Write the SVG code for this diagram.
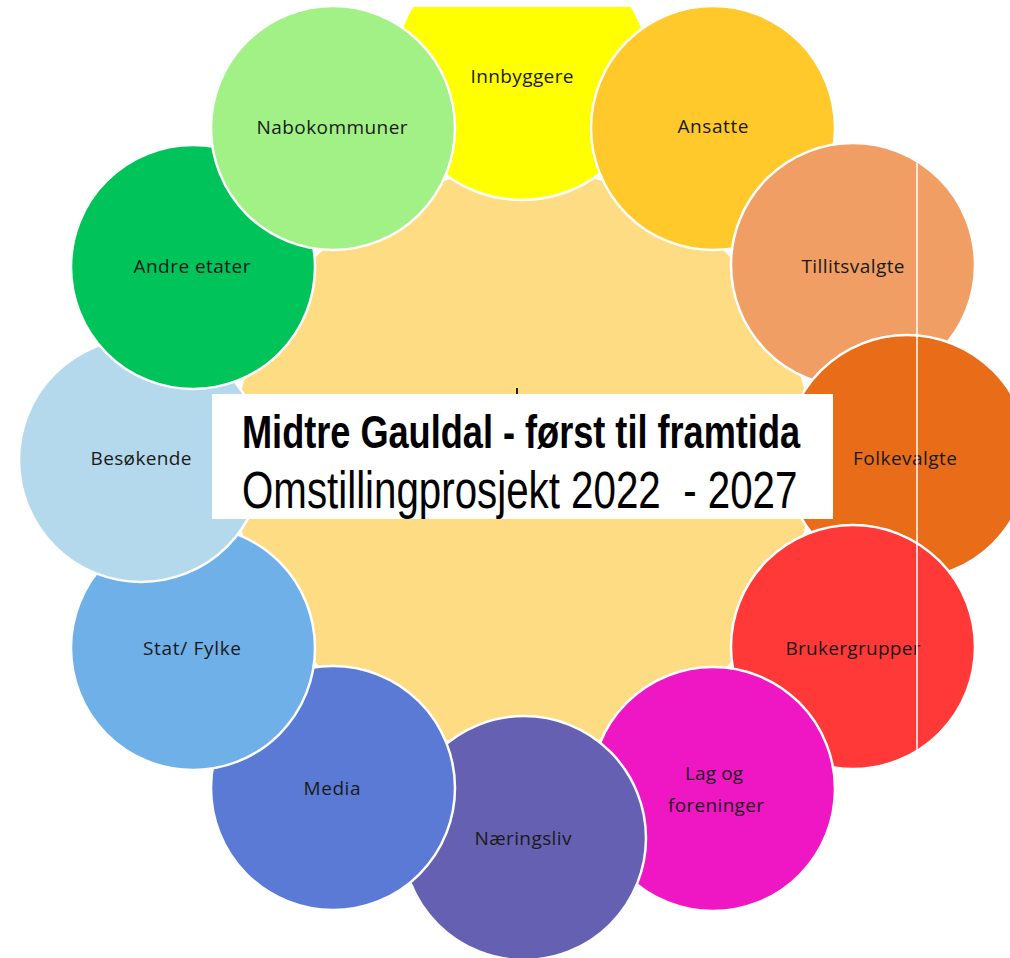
<svg xmlns="http://www.w3.org/2000/svg" width="1010" height="958" viewBox="0 0 1010 958">
<style>
.c{stroke:#fff;stroke-width:2.5}
.t{font-family:"Open Sans","Liberation Sans",sans-serif;font-size:19px;fill:#1a1a1a;text-anchor:middle}
.h1{font-family:"Liberation Sans",Arial,sans-serif;font-weight:bold;font-size:46px;fill:#000}
.h2{font-family:"Liberation Sans",Arial,sans-serif;font-size:51px;fill:#000}
</style>
<rect width="1010" height="958" fill="#fff"/>
<circle id="center" cx="523" cy="460" r="290" fill="#FEDC84"/>
<g id="innbyggere"><circle class="c" cx="522" cy="72" r="128" fill="#FFFF00"/><text class="t" x="522" y="83" textLength="103" lengthAdjust="spacing">Innbyggere</text></g>
<g id="ansatte"><circle class="c" cx="713" cy="128" r="122" fill="#FFC92B"/><text class="t" x="713" y="133" textLength="71" lengthAdjust="spacing">Ansatte</text></g>
<g id="tillitsvalgte"><circle class="c" cx="853" cy="265" r="122" fill="#F09E64"/><text class="t" x="853" y="273" textLength="103" lengthAdjust="spacing">Tillitsvalgte</text></g>
<g id="folkevalgte"><circle class="c" cx="907" cy="457" r="122" fill="#E96C19"/><text class="t" x="905" y="465" textLength="104" lengthAdjust="spacing">Folkevalgte</text></g>
<g id="brukergrupper"><circle class="c" cx="853" cy="647" r="122" fill="#FF3838"/><text class="t" x="853" y="655" textLength="135" lengthAdjust="spacing">Brukergrupper</text></g>
<g id="lag"><circle class="c" cx="713" cy="789" r="122" fill="#EF17C3"/><text class="t" x="714" y="780" textLength="58" lengthAdjust="spacing">Lag og</text><text class="t" x="716" y="812" textLength="96" lengthAdjust="spacing">foreninger</text></g>
<g id="naeringsliv"><circle class="c" cx="524" cy="838" r="122" fill="#6560B1"/><text class="t" x="523" y="845" textLength="97" lengthAdjust="spacing">Næringsliv</text></g>
<g id="media"><circle class="c" cx="333" cy="788" r="122" fill="#5A7AD5"/><text class="t" x="332" y="795" textLength="57" lengthAdjust="spacing">Media</text></g>
<g id="stat"><circle class="c" cx="193" cy="648" r="122" fill="#70B0E8"/><text class="t" x="192" y="655" textLength="98" lengthAdjust="spacing">Stat/ Fylke</text></g>
<g id="besokende"><circle class="c" cx="141" cy="460" r="122" fill="#B5D9EC"/><text class="t" x="141" y="465" textLength="101" lengthAdjust="spacing">Besøkende</text></g>
<g id="andre"><circle class="c" cx="193" cy="267" r="122" fill="#00C35A"/><text class="t" x="192" y="273" textLength="117" lengthAdjust="spacing">Andre etater</text></g>
<g id="nabokommuner"><circle class="c" cx="333" cy="128" r="122" fill="#A2F187"/><text class="t" x="332" y="134" textLength="151" lengthAdjust="spacing">Nabokommuner</text></g>
<rect x="0" y="0" width="1010" height="7" fill="#fff"/>
<line x1="917" y1="163" x2="917" y2="750" stroke="#fff" stroke-width="1.5"/>
<rect x="516" y="388" width="2" height="6" fill="#222"/>
<g id="title">
<rect x="212" y="394" width="621" height="125" fill="#fff"/>
<text class="h1" transform="translate(242,448) scale(0.786,1)" x="0" y="0" textLength="710" lengthAdjust="spacingAndGlyphs">Midtre Gauldal - først til framtida</text>
<text class="h2" xml:space="preserve" transform="translate(242,508) scale(0.79,1)" x="0" y="0" textLength="703" lengthAdjust="spacingAndGlyphs">Omstillingprosjekt 2022  - 2027</text>
</g>
</svg>
